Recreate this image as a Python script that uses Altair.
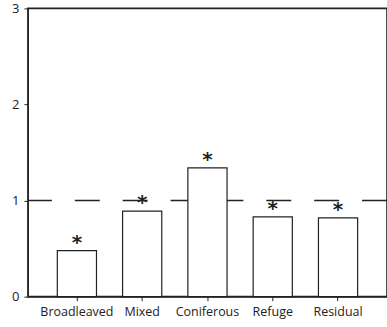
import altair as alt
import pandas as pd

# Mean ratio per forest type, with significance markers
categories = ["Broadleaved", "Mixed", "Coniferous", "Refuge", "Residual"]
values = [0.48, 0.89, 1.34, 0.83, 0.82]
marks = ["*", "*", "*", "*", "*"]

df = pd.DataFrame({"type": categories, "value": values, "sig": marks})
ref = pd.DataFrame({"y": [1.0]})

FONT = "Open Sans"
INK = "#222"

x = alt.X(
    "type:N",
    sort=categories,
    title=None,
    scale=alt.Scale(paddingInner=0.4, paddingOuter=0.45),
    axis=alt.Axis(
        labelAngle=0, labelFont=FONT, labelFontSize=12.5, labelColor=INK,
        tickSize=4, tickColor=INK, domainColor=INK, labelPadding=5,
    ),
)
y = alt.Y(
    "value:Q",
    title=None,
    scale=alt.Scale(domain=[0, 3], nice=False),
    axis=alt.Axis(
        values=[0, 1, 2, 3], format="d", grid=False,
        labelFont=FONT, labelFontSize=13, labelColor=INK,
        tickSize=4, tickColor=INK, domainColor=INK, labelPadding=5,
    ),
)

bars = alt.Chart(df).mark_bar(
    fill="white", stroke=INK, strokeWidth=1.2
).encode(x=x, y=y)

stars = alt.Chart(df).mark_text(
    font="DejaVu Sans", fontSize=20, fontWeight="bold", color=INK,
    baseline="middle", dy=-8
).encode(x=x, y=y, text="sig:N")

dashed = alt.Chart(ref).mark_rule(
    color=INK, strokeWidth=1.5, strokeDash=[25, 23]
).encode(y=alt.Y("y:Q", scale=alt.Scale(domain=[0, 3], nice=False)))

chart = (
    alt.layer(dashed, bars, stars)
    .properties(
        width=360, height=289,
        autosize=alt.AutoSizeParams(type="none"),
        padding={"left": 28, "top": 8, "right": 0, "bottom": 30},
        background="white",
    )
    .configure_view(stroke=INK, strokeWidth=1.6)
)

chart.save("out.html", embed_options={"renderer": "svg", "actions": False})
